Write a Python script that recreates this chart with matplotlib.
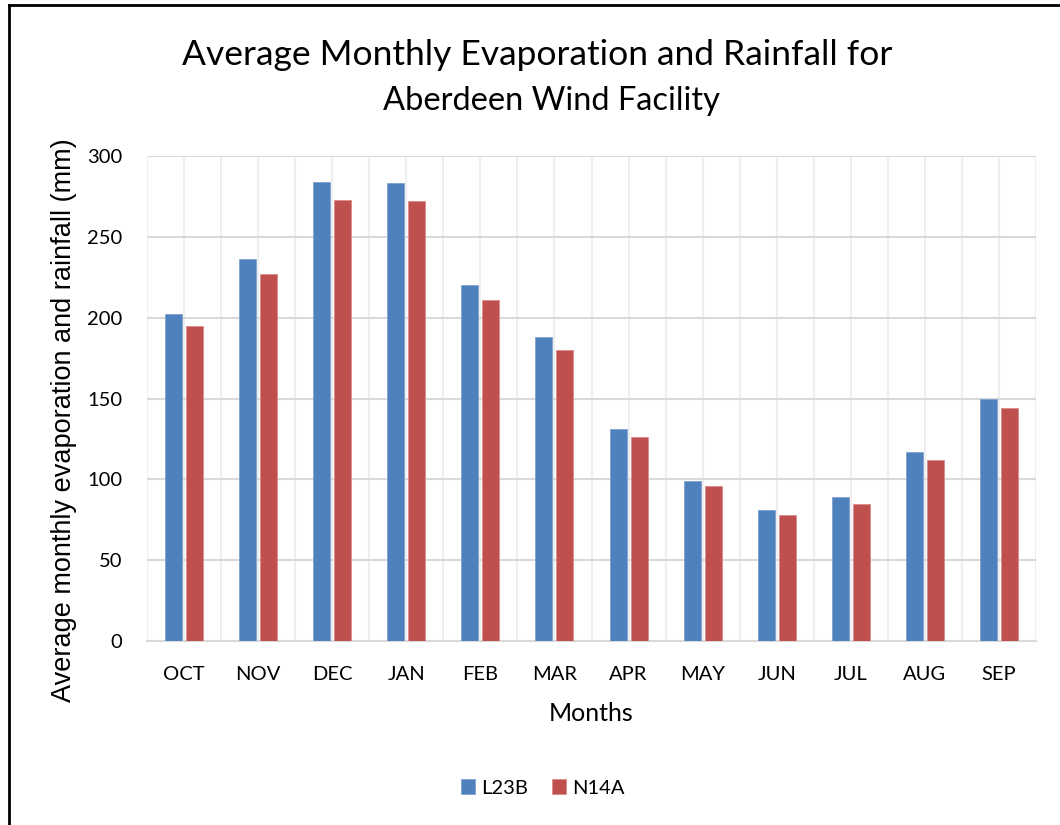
import matplotlib
matplotlib.use("Agg")
import matplotlib.pyplot as plt
import numpy as np
from matplotlib.lines import Line2D

months = ["OCT", "NOV", "DEC", "JAN", "FEB", "MAR", "APR", "MAY", "JUN", "JUL", "AUG", "SEP"]
l23b = [202, 236, 284, 283, 220, 188, 131, 99, 81, 89, 117, 150]
n14a = [195, 227, 273, 272, 211, 180, 126, 96, 78, 85, 112, 144]
yticks = [0, 50, 100, 150, 200, 250, 300]

BLUE = "#4f81bd"
RED = "#c0504d"
TICKFONT = ["Lato", "DejaVu Sans"]

fig = plt.figure(figsize=(10.6, 8.25), dpi=100)
ax = fig.add_axes([147/1060, 1-641/825, (1036-147)/1060, (641-156)/825])

x = np.arange(len(months))
w = 0.23
off = 0.142
ax.bar(x - off, l23b, w, color=BLUE, edgecolor="#7fa3d1", linewidth=0.6, label="L23B", zorder=3)
ax.bar(x + off, n14a, w, color=RED, edgecolor="#d98c8a", linewidth=0.6, label="N14A", zorder=3)

ax.set_xlim(-0.5, len(months) - 0.5)
ax.set_ylim(0, 300)
ax.set_yticks(yticks)
ax.set_xticks(x)
ax.set_xticklabels(months)

# gridlines
for yv in yticks[1:]:
    ax.axhline(yv, color="#d9d9d9", lw=1.5, zorder=1)
for xv in np.arange(-0.5, len(months), 0.5):
    ax.axvline(xv, color="#efefef", lw=1.5, zorder=0.5)

for s in ["top", "right", "left"]:
    ax.spines[s].set_visible(False)
ax.spines["bottom"].set_color("#d9d9d9")
ax.spines["bottom"].set_linewidth(1.5)
ax.tick_params(axis="both", length=0, labelsize=14.5, colors="black")
ax.tick_params(axis="x", pad=18)
ax.tick_params(axis="y", pad=18)
for lab in ax.get_xticklabels() + ax.get_yticklabels():
    lab.set_family(TICKFONT)

ax.set_xlabel("Months", fontsize=18, family=TICKFONT, labelpad=14)
fig.text(64/1060, 1-420/825, "Average monthly evaporation and rainfall (mm)",
         rotation=90, ha="center", va="center", fontsize=19.5,
         family=["Liberation Sans", "DejaVu Sans"])

fig.text(537/1060, 1-55/825, "Average Monthly Evaporation and Rainfall for",
         ha="center", va="center", fontsize=25.5, family=TICKFONT)
fig.text(551.5/1060, 1-101/825, "Aberdeen Wind Facility",
         ha="center", va="center", fontsize=23.5, family=TICKFONT)

leg = fig.legend(loc="center", bbox_to_anchor=(543/1060, 1-788/825), ncol=2,
                 frameon=False, handlelength=0.7, handleheight=0.7,
                 handletextpad=0.3, columnspacing=1.2, prop={"family": TICKFONT, "size": 14.5})

# outer chart border (left and top visible)
fig.add_artist(Line2D([9/1060, 9/1060], [0, 1-5/825], transform=fig.transFigure, color="black", lw=2))
fig.add_artist(Line2D([9/1060, 1], [1-5/825, 1-5/825], transform=fig.transFigure, color="black", lw=2))

fig.savefig("out.png", dpi=100)
